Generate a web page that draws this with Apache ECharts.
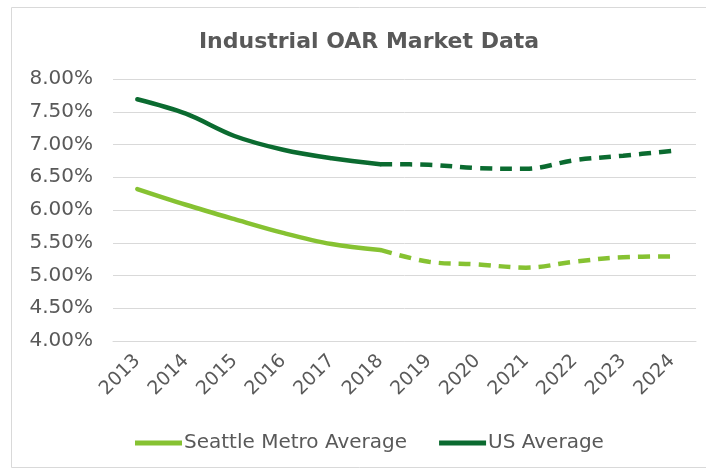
<!DOCTYPE html>
<html>
<head>
<meta charset="utf-8">
<script src="https://cdn.jsdelivr.net/npm/echarts@6/dist/echarts.min.js"></script>
<style>
	html, body { margin: 0; padding: 0; background: #fff; }
	#oar { width: 706px; height: 472px; }
</style>
</head>
<body>
<div id="oar"></div>
<script>
// years on the x axis
var years = ['2013', '2014', '2015', '2016', '2017', '2018', '2019', '2020', '2021', '2022', '2023', '2024'];
// cap rates in %
var seattle = [6.32, 6.08, 5.86, 5.65, 5.48, 5.39, 5.21, 5.17, 5.12, 5.21, 5.28, 5.29];
var usAvg = [7.69, 7.47, 7.13, 6.92, 6.79, 6.70, 6.69, 6.64, 6.63, 6.76, 6.83, 6.90];
// last actual year, forecast is dashed after it
var lastActual = 5;

function part(arr, solid) {
	return arr.map(function(v, i) {
		if (solid) return i <= lastActual ? v : null;
		return i >= lastActual ? v : null;
	});
}

var dom = document.getElementById("oar");
var myChart = echarts.init(dom);
var txt = '#595959';
var colLight = '#86c232';
var colDark = '#0b6b30';

var option = {
	animation: false,
	textStyle: { fontFamily: 'DejaVu Sans' },
	title: {
		text: 'Industrial OAR Market Data',
		left: 364,
		textAlign: 'center',
		top: 26,
		textStyle: {
			fontFamily: 'DejaVu Sans',
			fontSize: 22,
			fontWeight: 'bold',
			color: txt
		}
	},
	graphic: [{
		type: 'rect',
		shape: { x: 11.5, y: 7.5, width: 720, height: 460 },
		style: { fill: null, stroke: '#d9d9d9', lineWidth: 1 },
		silent: true
	}],
	legend: {
		data: ['Seattle Metro Average', 'US Average'],
		left: 130,
		top: 428,
		itemWidth: 47,
		itemHeight: 5,
		itemGap: 32,
		icon: 'rect',
		textStyle: {
			fontSize: 20,
			color: txt,
			padding: [0, 0, 0, -3]
		}
	},
	grid: {
		top: 79,
		left: 113,
		right: 10,
		bottom: 131
	},
	xAxis: {
		type: 'category',
		data: years,
		boundaryGap: true,
		axisLine: {
			lineStyle: { color: '#d9d9d9', width: 1 }
		},
		axisTick: { show: false },
		axisLabel: {
			rotate: 45,
			margin: 17,
			fontSize: 19,
			color: txt
		}
	},
	yAxis: {
		type: 'value',
		min: 4,
		max: 8,
		interval: 0.5,
		axisLine: { show: false },
		axisTick: { show: false },
		splitLine: {
			lineStyle: { color: '#d9d9d9', width: 1 }
		},
		axisLabel: {
			margin: 20,
			fontSize: 20,
			color: txt,
			formatter: function(v) {
				return v.toFixed(2) + '%';
			}
		}
	},
	series: [{
		name: 'Seattle Metro Average',
		type: 'line',
		data: part(seattle, true),
		symbol: 'none',
		smooth: 0.35,
		color: colLight,
		lineStyle: { width: 4.5, color: colLight, cap: 'round' }
	}, {
		name: 'US Average',
		type: 'line',
		data: part(usAvg, true),
		symbol: 'none',
		smooth: 0.35,
		color: colDark,
		lineStyle: { width: 4.5, color: colDark, cap: 'round' }
	}, {
		name: 'Seattle Metro Average',
		type: 'line',
		data: part(seattle, false),
		symbol: 'none',
		smooth: 0.35,
		color: colLight,
		lineStyle: { width: 4.5, color: colLight, type: [12, 8] }
	}, {
		name: 'US Average',
		type: 'line',
		data: part(usAvg, false),
		symbol: 'none',
		smooth: 0.35,
		color: colDark,
		lineStyle: { width: 4.5, color: colDark, type: [12, 8] }
	}]
};

myChart.setOption(option);
</script>
</body>
</html>
